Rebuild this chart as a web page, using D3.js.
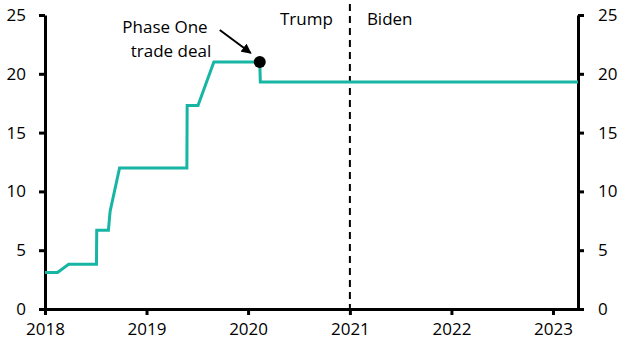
<!DOCTYPE html>
<html>
<head>
<meta charset="utf-8">
<script src="https://cdnjs.cloudflare.com/ajax/libs/d3/7.8.5/d3.min.js"></script>
<style>
    body { margin: 0; background: #fff; }
    svg text { font-family: "Open Sans", sans-serif; fill: #000; }
</style>
</head>
<body>
<svg id="chart" width="628" height="354"></svg>
<script>
    // average tariff
    var dates = ["2018-01-01", "2018-02-15", "2018-03-27", "2018-07-05", "2018-07-06", "2018-08-17",
                 "2018-08-23", "2018-09-26", "2019-05-26", "2019-05-27", "2019-07-05", "2019-08-31",
                 "2020-02-12", "2020-02-14", "2023-04-01"];
    var values = [3.1, 3.1, 3.8, 3.8, 6.7, 6.7, 8.3, 12.0, 12.0, 17.3, 17.3, 21.0, 21.0, 19.3, 19.3];
    var yearTicks = [2018, 2019, 2020, 2021, 2022, 2023];
    var yTicks = [0, 5, 10, 15, 20, 25];
    var dealDate = "2020-02-12", dealValue = 21.0;
    var splitDate = "2021-01-01";

    var parse = d3.timeParse("%Y-%m-%d");
    var data = dates.map(function(d, i) { return { date: parse(d), value: values[i] }; });

    var svg = d3.select("#chart");
    var mLeft = 45, mRight = 578, mTop = 15, mBottom = 309;
    var fs = "17px";

    var x = d3.scaleTime()
        .domain([parse("2018-01-01"), parse("2023-04-01")])
        .range([mLeft, mRight]);
    var y = d3.scaleLinear().domain([0, 25]).range([mBottom, mTop]);

    // x axis
    var gx = svg.append("g").attr("transform", "translate(0," + mBottom + ")")
        .call(d3.axisBottom(x)
            .tickValues(yearTicks.map(function(d) { return new Date(d, 0, 1); }))
            .tickFormat(d3.timeFormat("%Y"))
            .tickSize(6).tickSizeOuter(0).tickPadding(8));
    gx.select(".domain").attr("stroke-width", 3);
    gx.selectAll(".tick line").attr("stroke-width", 3);
    gx.selectAll(".tick text").style("font-size", fs);

    // left axis
    var gl = svg.append("g").attr("transform", "translate(" + mLeft + ",0)")
        .call(d3.axisLeft(y).tickValues(yTicks).tickSize(6).tickSizeOuter(0).tickPadding(13));
    gl.select(".domain").attr("stroke-width", 3);
    gl.selectAll(".tick line").attr("stroke-width", 3);
    gl.selectAll(".tick text").style("font-size", fs);

    // right axis
    var gr = svg.append("g").attr("transform", "translate(" + mRight + ",0)")
        .call(d3.axisRight(y).tickValues(yTicks).tickSize(6).tickSizeOuter(0).tickPadding(14));
    gr.select(".domain").attr("stroke-width", 3);
    gr.selectAll(".tick line").attr("stroke-width", 3);
    gr.selectAll(".tick text").style("font-size", fs);

    // Trump / Biden divider
    var sx = x(parse(splitDate));
    svg.append("line")
        .attr("x1", sx).attr("x2", sx)
        .attr("y1", 4).attr("y2", mBottom)
        .attr("stroke", "#000").attr("stroke-width", 2)
        .attr("stroke-dasharray", "7,5");

    svg.append("text").attr("x", sx - 17).attr("y", 25)
        .attr("text-anchor", "end").style("font-size", fs).text("Trump");
    svg.append("text").attr("x", sx + 17).attr("y", 25)
        .attr("text-anchor", "start").style("font-size", fs).text("Biden");

    // line
    var line = d3.line()
        .x(function(d) { return x(d.date); })
        .y(function(d) { return y(d.value); });

    svg.append("path").datum(data)
        .attr("d", line)
        .attr("fill", "none")
        .attr("stroke", "#17b5a3")
        .attr("stroke-width", 3);

    // annotation
    var defs = svg.append("defs");
    defs.append("marker")
        .attr("id", "arrow")
        .attr("viewBox", "0 0 10 10")
        .attr("refX", 9).attr("refY", 5)
        .attr("markerWidth", 5).attr("markerHeight", 5)
        .attr("orient", "auto")
        .append("path").attr("d", "M0,0 L10,5 L0,10 Z").attr("fill", "#000");

    var dx = x(parse(dealDate)), dy = y(dealValue);
    svg.append("line")
        .attr("x1", dx - 40).attr("y1", dy - 32)
        .attr("x2", dx - 9).attr("y2", dy - 9)
        .attr("stroke", "#000").attr("stroke-width", 2)
        .attr("marker-end", "url(#arrow)");

    svg.append("circle").attr("cx", dx).attr("cy", dy).attr("r", 6).attr("fill", "#000");

    svg.append("text").attr("x", 165).attr("y", 33)
        .attr("text-anchor", "middle").style("font-size", fs).text("Phase One");
    svg.append("text").attr("x", 171).attr("y", 57)
        .attr("text-anchor", "middle").style("font-size", fs).text("trade deal");
</script>
</body>
</html>
